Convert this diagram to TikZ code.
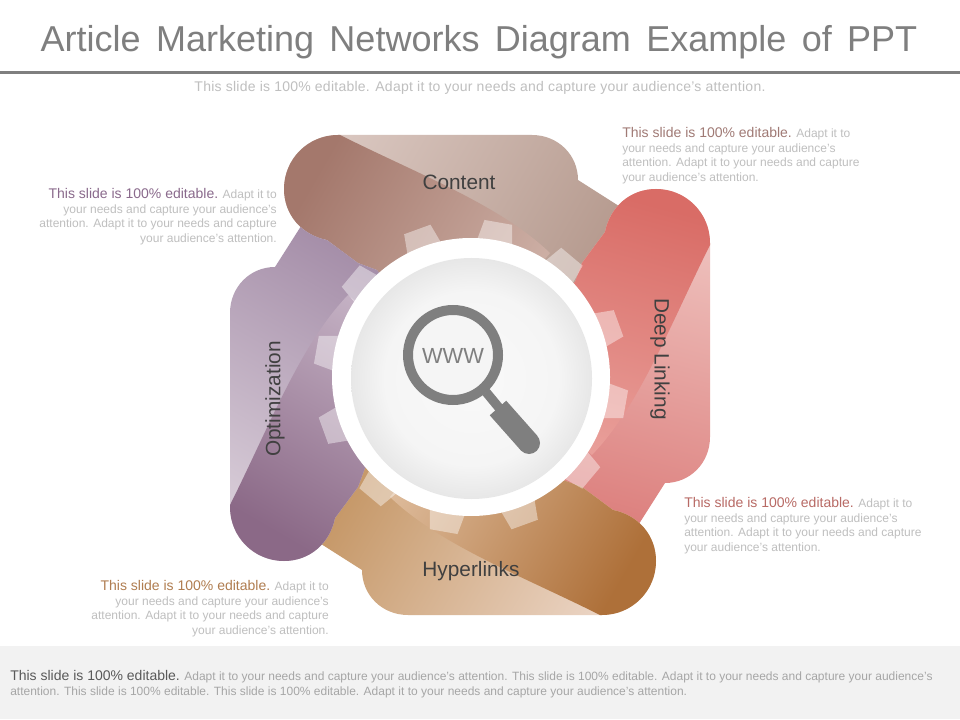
\documentclass[tikz,border=0pt]{standalone}
\usepackage{fontspec}
\setmainfont{Liberation Sans}
\newfontfamily\titlefont[WordSpace=1.54]{Liberation Sans}
\definecolor{titlegrey}{HTML}{7F7F7F}
\definecolor{subgrey}{HTML}{BFBFBF}
\definecolor{bodygrey}{HTML}{BFBFBF}
\definecolor{labelink}{HTML}{404040}
\definecolor{bandfill}{HTML}{F2F2F2}
\definecolor{leadbrown}{HTML}{A07A75}
\definecolor{leadpurple}{HTML}{8A6A8C}
\definecolor{leadtan}{HTML}{B07D50}
\definecolor{leadred}{HTML}{B86A65}
\definecolor{leadgrey}{HTML}{595959}
\definecolor{footgrey}{HTML}{A6A6A6}
\definecolor{gla}{HTML}{F9F9F9}\definecolor{glb}{HTML}{F5F5F5}\definecolor{glc}{HTML}{E5E5E5}\definecolor{gld}{HTML}{CECECE}\definecolor{gle}{HTML}{B2B2B2}
\pgfdeclareradialshading{glass}{\pgfpointorigin}{color(0bp)=(gla); color(18bp)=(glb); color(26bp)=(glc); color(32bp)=(gld); color(35.4bp)=(gle); color(50bp)=(gle)}
\def\petalpath{(338,135) -- (532,135) .. controls (558,135) and (578,155) .. (578,180) -- (622,208) -- (610,280) -- (470,375) -- (400,300) -- (377,270) -- (358,263) -- (327,240) .. controls (302,235) and (284,215) .. (284,189) .. controls (284,159) and (308,135) .. (338,135) -- cycle}
\def\bandpath{(340,135) .. controls (420,175) and (500,205) .. (550,253) -- (540,265) -- (470,375) -- (400,300) -- (377,270) -- (358,263) -- (327,240) .. controls (302,235) and (284,215) .. (284,189) .. controls (284,159) and (308,135) .. (338,135) -- cycle}
\newcommand{\petal}[6]{%
  \definecolor{pla}{HTML}{#3}\definecolor{plb}{HTML}{#4}\definecolor{pda}{HTML}{#5}\definecolor{pdb}{HTML}{#6}%
  \shade[rotate around={#1:(470,375)},bottom color=pla,top color=plb,shading angle=#2] \petalpath;
  \shade[rotate around={#1:(470,375)},bottom color=pda,top color=pdb,shading angle=#2] \bandpath;
}
\newcommand{\blurb}[2]{{\fontsize{10.5pt}{11pt}\selectfont\color{#1}#2}}
\tikzset{
  petallabel/.style={font=\fontsize{15.6pt}{18pt}\selectfont,text=labelink,inner sep=0pt},
  noteblock/.style={font=\fontsize{9pt}{11pt}\selectfont,text=bodygrey,inner sep=0pt},
  tooth/.style={fill=white,fill opacity=0.42,draw=none},
}
\begin{document}
\begin{tikzpicture}[x=0.75pt,y=-0.75pt]
\useasboundingbox (0,0) rectangle (960,720);
\fill[white] (0,0) rectangle (960,720);
% footer band
\fill[bandfill] (0,646) rectangle (960,719);
% title
\node[font=\titlefont\fontsize{27pt}{32pt}\selectfont,text=titlegrey,inner sep=0pt] (title) at (479,42) {Article Marketing Networks Diagram Example of PPT};
\fill[titlegrey] (0,71) rectangle (960,74);
\node[font=\fontsize{10.5pt}{12pt}\selectfont\addfontfeature{LetterSpace=1.8},text=subgrey,inner sep=0pt] (subtitle) at (480,88) {This slide is 100\% editable. Adapt it to your needs and capture your audience's attention.};
% petals
\petal{0}{-120}{D9C6BF}{B3978B}{A4786C}{CFB2A8}
\petal{-90}{-195}{EFC4C0}{DC7E7C}{D96C66}{E9A09B}
\petal{-180}{-300}{EAD3C2}{C2925F}{AE7039}{E0BFA0}
% the purple petal is cut away where the Content head lies over it
\begin{scope}[even odd rule]
\clip (0,0) rectangle (960,720) \petalpath;
\petal{90}{-30}{D6CAD6}{A088A4}{8B6987}{C7B5C7}
\end{scope}
% gear teeth
\foreach \a in {10,40,...,340}{
  \fill[tooth,rotate around={-\a:(471,377)}] (452,247) -- (457,220) -- (485,220) -- (490,247) -- cycle;
}
% hub
\fill[white] (471,377) circle[radius=139];
\shade[shading=glass] (471.5,378.5) circle[radius=120.5];
% magnifier
\fill[white!96!black] (453,355) circle[radius=40];
\draw[titlegrey,line width=7.5pt] (453,355) circle[radius=45];
\draw[titlegrey,line width=7pt] (486,392) -- (500,409);
\draw[titlegrey,line width=16.5pt] (498,408) -- (529,443);
\fill[titlegrey] (529,443) circle[radius=11];
\node[font=\fontsize{16.4pt}{18pt}\selectfont,text=titlegrey,inner sep=0pt] (www) at (453,356) {WWW};
% labels
\node[petallabel] (content) at (459,182) {Content};
\node[petallabel,rotate=-90] (deep) at (660,359) {Deep Linking};
\node[petallabel] (hyper) at (471,571) {Hyperlinks};
\node[petallabel,rotate=90] (optim) at (275,399) {Optimization};
% notes
\node[noteblock,align=left,anchor=north west] (n1) at (622,127) {\blurb{leadbrown}{This slide is 100\% editable.} Adapt it to\\your needs and capture your audience's\\attention. Adapt it to your needs and capture\\your audience's attention.};
\node[noteblock,align=right,anchor=north east] (n2) at (277,188) {\blurb{leadpurple}{This slide is 100\% editable.} Adapt it to\\your needs and capture your audience's\\attention. Adapt it to your needs and capture\\your audience's attention.};
\node[noteblock,align=left,anchor=north west] (n3) at (684,497) {\blurb{leadred}{This slide is 100\% editable.} Adapt it to\\your needs and capture your audience's\\attention. Adapt it to your needs and capture\\your audience's attention.};
\node[noteblock,align=right,anchor=north east] (n4) at (329,580) {\blurb{leadtan}{This slide is 100\% editable.} Adapt it to\\your needs and capture your audience's\\attention. Adapt it to your needs and capture\\your audience's attention.};
\node[noteblock,text=footgrey,align=left,anchor=north west] (foot) at (10,670) {\blurb{leadgrey}{This slide is 100\% editable.} Adapt it to your needs and capture your audience's attention. This slide is 100\% editable. Adapt it to your needs and capture your audience's\\attention. This slide is 100\% editable. This slide is 100\% editable. Adapt it to your needs and capture your audience's attention.};
\end{tikzpicture}
\end{document}
